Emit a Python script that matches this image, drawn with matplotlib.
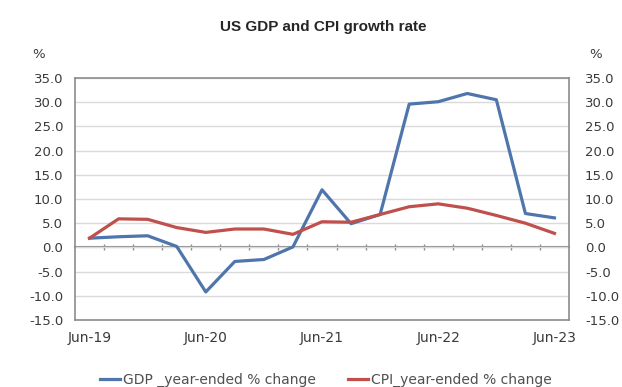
import matplotlib
matplotlib.use("Agg")
import matplotlib.pyplot as plt
import numpy as np

plt.rcParams["font.family"] = ["DejaVu Sans"]

# Quarterly series, year-ended % change
quarters = ["Jun-19", "Sep-19", "Dec-19", "Mar-20", "Jun-20", "Sep-20", "Dec-20",
            "Mar-21", "Jun-21", "Sep-21", "Dec-21", "Mar-22", "Jun-22", "Sep-22",
            "Dec-22", "Mar-23", "Jun-23"]
gdp = [1.9, 2.2, 2.4, 0.2, -9.2, -2.9, -2.5, 0.1, 11.9, 4.9, 6.8,
       29.6, 30.1, 31.8, 30.5, 7.0, 6.1]
cpi = [1.9, 5.9, 5.8, 4.1, 3.1, 3.8, 3.8, 2.7, 5.3, 5.2, 6.8,
       8.4, 9.0, 8.1, 6.6, 5.0, 2.9]
tick_labels = ["Jun-19", "Jun-20", "Jun-21", "Jun-22", "Jun-23"]
y_ticks = [-15, -10, -5, 0, 5, 10, 15, 20, 25, 30, 35]
gdp_label = "GDP _year-ended % change"
cpi_label = "CPI_year-ended % change"

W, H = 622, 387
fig = plt.figure(figsize=(W / 100, H / 100), dpi=100)
ax = fig.add_axes([75 / W, 1 - 320 / H, 494 / W, 242 / H])

frame_col = "#8c8c8c"
text_col = "#3a3a3a"

x = np.arange(len(quarters))
l1, = ax.plot(x, gdp, color="#4f75ad", lw=2.3, solid_joinstyle="round",
              label=gdp_label, zorder=3)
l2, = ax.plot(x, cpi, color="#c0504d", lw=2.3, solid_joinstyle="round",
              label=cpi_label, zorder=3)

ymin, ymax = y_ticks[0], y_ticks[-1]
ax.set_xlim(-0.5, len(quarters) - 0.5)
ax.set_ylim(ymin, ymax)
ax.set_yticks(y_ticks, [f"{v:.1f}" for v in y_ticks])
ax.yaxis.grid(True, color="#dadada", lw=1)
ax.set_axisbelow(True)
for s in ax.spines.values():
    s.set_color(frame_col)
    s.set_linewidth(1.2)
ax.tick_params(axis="y", length=0, pad=8.5, labelsize=9.5, labelcolor=text_col)
ax.set_xticks([quarters.index(t) for t in tick_labels], tick_labels)
ax.tick_params(axis="x", length=0, pad=8, labelsize=10, labelcolor=text_col)

# Category axis running along zero, with ticks between categories
zero_loc = (0 - ymin) / (ymax - ymin)
zax = ax.secondary_xaxis(zero_loc)
zax.set_xticks(np.arange(0.5, len(quarters) - 1, 1.0))
zax.tick_params(axis="x", direction="inout", length=5, width=1,
                color=frame_col, labelbottom=False, labeltop=False)
for s in zax.spines.values():
    s.set_color(frame_col)
    s.set_linewidth(1.5)

# Mirrored value axis on the right
ax2 = ax.twinx()
ax2.set_ylim(ymin, ymax)
ax2.set_yticks(y_ticks, [f"{v:.1f}" for v in y_ticks])
ax2.tick_params(axis="y", length=0, pad=11.5, labelsize=9.5, labelcolor=text_col)
for s in ax2.spines.values():
    s.set_visible(False)

fig.text(323 / W, 1 - 27 / H, "US GDP and CPI growth rate", ha="center",
         va="center", fontsize=11, fontweight="bold",
         family=["Liberation Sans", "DejaVu Sans"], color="#262626")
fig.text(39 / W, 1 - 55 / H, "%", ha="center", va="center", fontsize=9.5,
         color=text_col)
fig.text(596 / W, 1 - 55 / H, "%", ha="center", va="center", fontsize=9.5,
         color=text_col)

fig.legend(handles=[l1, l2], loc="center", bbox_to_anchor=(326 / W, 1 - 380 / H),
           ncol=2, frameon=False, fontsize=10, handlelength=1.45,
           handletextpad=0.2, columnspacing=2.3, labelcolor="#505050",
           borderpad=0, borderaxespad=0)

fig.savefig("out.png", dpi=100)
